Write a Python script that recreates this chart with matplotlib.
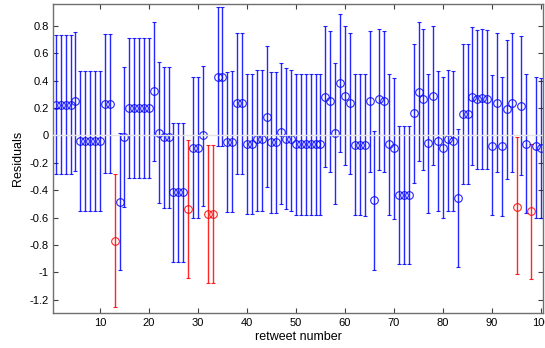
import numpy as np
import matplotlib
matplotlib.use('Agg')
import matplotlib.pyplot as plt

plt.rcParams['font.family'] = ['Liberation Sans', 'DejaVu Sans']

# residuals, with their interval ends
resid = [0.22, 0.22, 0.22, 0.22, 0.25, -0.04, -0.04, -0.04, -0.04, -0.04,
         0.23, 0.23, -0.775, -0.485, -0.015, 0.20, 0.20, 0.20, 0.20, 0.20,
         0.325, 0.02, -0.015, -0.015, -0.415, -0.415, -0.415, -0.537, -0.09, -0.09,
         0.004, -0.575, -0.575, 0.43, 0.43, -0.045, -0.045, 0.24, 0.24, -0.065,
         -0.065, -0.026, -0.026, 0.137, -0.05, -0.05, 0.023, -0.026, -0.03, -0.065,
         -0.065, -0.065, -0.065, -0.065, -0.065, 0.28, 0.25, 0.016, 0.385, 0.29,
         0.235, -0.07, -0.07, -0.07, 0.25, -0.47, 0.264, 0.25, -0.065, -0.09,
         -0.435, -0.435, -0.435, 0.167, 0.32, 0.264, -0.057, 0.29, -0.04, -0.09,
         -0.03, -0.04, -0.46, 0.157, 0.157, 0.283, 0.264, 0.27, 0.264, -0.075,
         0.24, -0.08, 0.19, 0.24, -0.52, 0.215, -0.06, -0.555, -0.08, -0.09]

upper = [0.735, 0.735, 0.735, 0.735, 0.753, 0.47, 0.47, 0.47, 0.47, 0.47,
         0.74, 0.74, -0.283, 0.016, 0.50, 0.71, 0.71, 0.71, 0.71, 0.71,
         0.826, 0.534, 0.50, 0.50, 0.09, 0.09, 0.09, -0.033, 0.425, 0.425,
         0.51, -0.07, -0.07, 0.936, 0.936, 0.46, 0.47, 0.75, 0.75, 0.45,
         0.45, 0.48, 0.48, 0.65, 0.46, 0.46, 0.53, 0.49, 0.48, 0.45,
         0.45, 0.45, 0.45, 0.45, 0.45, 0.80, 0.76, 0.53, 0.89, 0.80,
         0.745, 0.45, 0.45, 0.45, 0.765, 0.03, 0.775, 0.76, 0.45, 0.42,
         0.07, 0.07, 0.07, 0.67, 0.83, 0.775, 0.45, 0.80, 0.47, 0.425,
         0.48, 0.47, 0.045, 0.665, 0.665, 0.795, 0.77, 0.775, 0.77, 0.44,
         0.745, 0.43, 0.70, 0.745, -0.015, 0.725, 0.45, -0.065, 0.425, 0.42]

lower = [-0.28, -0.28, -0.28, -0.28, -0.26, -0.55, -0.55, -0.55, -0.55, -0.55,
         -0.276, -0.276, -1.254, -0.987, -0.524, -0.31, -0.31, -0.31, -0.31, -0.31,
         -0.186, -0.495, -0.53, -0.53, -0.925, -0.925, -0.925, -1.04, -0.605, -0.605,
         -0.515, -1.08, -1.08, -0.08, -0.08, -0.56, -0.56, -0.28, -0.28, -0.575,
         -0.575, -0.55, -0.55, -0.38, -0.57, -0.57, -0.50, -0.54, -0.55, -0.58,
         -0.58, -0.58, -0.58, -0.58, -0.58, -0.23, -0.27, -0.50, -0.125, -0.22,
         -0.28, -0.58, -0.58, -0.59, -0.27, -0.98, -0.25, -0.27, -0.58, -0.61,
         -0.94, -0.94, -0.94, -0.35, -0.19, -0.25, -0.57, -0.22, -0.55, -0.605,
         -0.55, -0.55, -0.96, -0.355, -0.355, -0.22, -0.245, -0.245, -0.245, -0.58,
         -0.27, -0.59, -0.32, -0.27, -1.01, -0.29, -0.57, -1.05, -0.60, -0.60]

x_ticks = [10, 20, 30, 40, 50, 60, 70, 80, 90, 100]
y_ticks = [-1.2, -1, -0.8, -0.6, -0.4, -0.2, 0, 0.2, 0.4, 0.6, 0.8]
y_labels = ['-1.2', '-1', '-0.8', '-0.6', '-0.4', '-0.2', '0', '0.2', '0.4', '0.6', '0.8']

r = np.array(resid)
up = np.array(upper)
lo = np.array(lower)
n = np.arange(1, len(r) + 1)
bad = (up < 0) | (lo > 0)

fig = plt.figure(figsize=(5.45, 3.48), dpi=100)
ax = fig.add_axes([0.098, 0.0997, 0.8983, 0.8888])

for mask, col in [(~bad, '#0000ff'), (bad, '#ff0000')]:
    ax.errorbar(n[mask], r[mask], yerr=[r[mask] - lo[mask], up[mask] - r[mask]],
                fmt='o', color=col, ecolor=col, mfc='none', mec=col,
                ms=5.5, mew=0.8, elinewidth=1.0, capsize=1.2, capthick=0.8,
                alpha=0.85)

ax.axhline(0, color='#e4e4e4', lw=1.0, zorder=5)

ax.set_xlim(0.5, 100.4)
ax.set_ylim(-1.3, 0.96)
ax.set_xticks(x_ticks)
ax.set_yticks(y_ticks)
ax.set_yticklabels(y_labels)
ax.tick_params(direction='in', length=3.5, width=0.8, top=True, right=True,
               labelsize=8, colors='#404040', labelcolor='black')
for s in ax.spines.values():
    s.set_color('#707070')
    s.set_linewidth(1.0)

ax.set_xlabel('retweet number', fontsize=9, labelpad=2)
ax.set_ylabel('Residuals', fontsize=9, labelpad=4)

fig.savefig('out.png', dpi=100)
